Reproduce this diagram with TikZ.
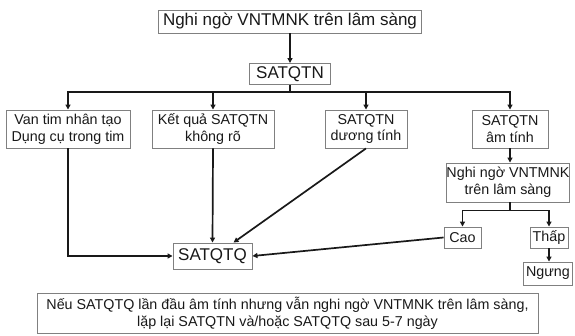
\documentclass[tikz,border=0pt]{standalone}
\usepackage{fontspec}
\setmainfont{Liberation Sans}
\usetikzlibrary{arrows.meta,calc}
\tikzset{
  box/.style={draw=black!50, line width=0.9pt, fill=white, inner sep=0pt, align=center, text=black!90,
              font=\fontsize{14.3}{16.8}\selectfont},
  bigbox/.style={box, font=\fontsize{17}{20}\selectfont},
  conn/.style={line width=1.7pt, black!90},
  arr/.style={conn, -{Triangle[length=5pt,width=5pt]}}
}
\begin{document}
\begin{tikzpicture}[x=1pt,y=-1pt]
\useasboundingbox (0,0) rectangle (575,336);
\node[bigbox, minimum width=263pt, minimum height=23pt] (top) at (290,21.5) {Nghi ngờ VNTMNK trên lâm sàng};
\node[bigbox, minimum width=81pt, minimum height=21pt] (sat) at (290,74) {SATQTN};
\node[box, minimum width=124pt, minimum height=38pt] (b1) at (68,129) {Van tim nhân tạo\\Dụng cụ trong tim};
\node[box, minimum width=122pt, minimum height=38pt] (b2) at (213,129) {Kết quả SATQTN\\không rõ};
\node[box, minimum width=82pt, minimum height=38pt] (b3) at (366,129) {SATQTN\\dương tính};
\node[box, minimum width=76pt, minimum height=38pt] (b4) at (510,129) {SATQTN\\âm tính};
\node[box, minimum width=122pt, minimum height=39pt] (b5) at (508,182.5) {Nghi ngờ VNTMNK\\trên lâm sàng};
\node[box, minimum width=37pt, minimum height=21pt] (cao) at (462.5,237.5) {Cao};
\node[box, minimum width=38pt, minimum height=21pt] (thap) at (549,237.5) {Thấp};
\node[box, minimum width=49pt, minimum height=23pt] (ngung) at (548,273.5) {Ngưng};
\node[bigbox, minimum width=79pt, minimum height=26pt] (satq) at (212.5,256) {SATQTQ};
\node[box, minimum width=501pt, minimum height=40pt] (note) at (287.5,313) {Nếu SATQTQ lần đầu âm tính nhưng vẫn nghi ngờ VNTMNK trên lâm sàng,\\lặp lại SATQTN và/hoặc SATQTQ sau 5-7 ngày};

\draw[arr] (top.south) -- (sat.north);
\coordinate (j) at (290,92);
\draw[conn] (sat.south) -- (j);
\draw[arr] (j) -| (b1.north);
\draw[arr] (j) -| (b2.north);
\draw[arr] (j) -| (b3.north);
\draw[arr] (j) -| (b4.north);
\draw[arr] (b1.south) |- (satq.west);
\draw[arr] (b2.south) -- (satq.north);
\draw[arr] (b3.south) -- ($(satq.north)+(21,0)$);
\draw[arr] (b4.south) -- (b4.south |- b5.north);
\coordinate (s) at (b4.south |- b5.south);
\coordinate (f) at ($(s)+(0,8)$);
\draw[conn] (s) -- (f);
\draw[arr] (f) -| (cao.north);
\draw[arr] (f) -| (thap.north);
\draw[arr] (thap.south) -- (thap.south |- ngung.north);
\draw[arr] (cao.west) -- (satq.east);
\end{tikzpicture}
\end{document}
